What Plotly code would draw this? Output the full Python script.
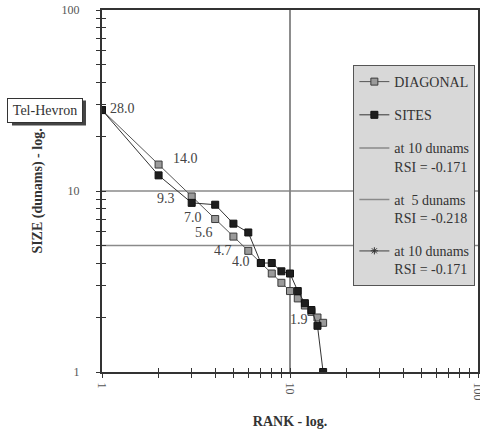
import math
import plotly.graph_objects as go

# Rank-size data (sizes in dunams)
rank = list(range(1, 16))
diagonal = [28.0, 14.0, 9.33, 7.0, 5.6, 4.67, 4.0, 3.5, 3.11, 2.8, 2.55, 2.33, 2.15, 2.0, 1.87]
sites = [28.0, 12.2, 8.6, 8.4, 6.6, 5.9, 4.0, 4.0, 3.6, 3.5, 2.8, 2.4, 2.2, 1.8, 1.0]

# Reference lines
size_10 = [10, 10]
size_5 = [5, 5]
rank_10 = [10, 10]
full_rank_span = [1, 100]
full_size_span = [0.5, 200]  # ends fall outside the axis range, so only the line shows

labelled_ranks = [1, 2, 3, 4, 5, 6, 7, 15]

major_vals = [1, 10, 100]
major_text = ["1", "10", "100"]
minor_vals = [2, 3, 4, 5, 6, 7, 8, 9, 20, 30, 40, 50, 60, 70, 80, 90]

SERIF = "Liberation Serif"
INK = "#333333"

fig = go.Figure()

fig.add_trace(go.Scatter(
    x=full_rank_span, y=size_10, mode="lines", name="at 10 dunams<br>RSI = -0.171",
    line=dict(color="#8a8a8a", width=1.5), legendrank=3, legendgroup="g3",
    hoverinfo="skip"))
fig.add_trace(go.Scatter(
    x=full_rank_span, y=size_5, mode="lines", name="at  5 dunams<br>RSI = -0.218",
    line=dict(color="#8a8a8a", width=1.5), legendrank=4, legendgroup="g4",
    hoverinfo="skip"))
fig.add_trace(go.Scatter(
    x=rank_10, y=full_size_span, mode="lines+markers", name="at 10 dunams<br>RSI = -0.171",
    line=dict(color="#808080", width=1.8),
    marker=dict(symbol="asterisk-open", size=6, color="#333", line=dict(width=1, color="#333")),
    legendrank=5, legendgroup="g5", hoverinfo="skip"))

fig.add_trace(go.Scatter(
    x=rank, y=diagonal, mode="lines+markers", name="DIAGONAL",
    line=dict(color="#555555", width=1),
    marker=dict(symbol="square", size=7, color="#9a9a9a", line=dict(color="#3a3a3a", width=1)),
    legendrank=1, legendgroup="g1"))
fig.add_trace(go.Scatter(
    x=rank, y=sites, mode="lines+markers", name="SITES",
    line=dict(color="#333333", width=1),
    marker=dict(symbol="square", size=7, color="#1e1e1e", line=dict(color="#111", width=1)),
    legendrank=2, legendgroup="g2"))

# carrier for the overlaid tick axes
fig.add_trace(go.Scatter(x=[10], y=[10], xaxis="x2", yaxis="y2", mode="markers",
                         marker=dict(opacity=0), showlegend=False, hoverinfo="skip"))

# value labels on the diagonal
offsets = {1: ("left", 6, 2), 2: ("left", 12, 6), 3: ("right", -15, -2), 4: ("right", -11, 2),
           5: ("right", -18, 4), 6: ("right", -14, 0), 7: ("right", -9, 2), 15: ("right", -13, 3)}
for r in labelled_ranks:
    v = diagonal[r - 1]
    anchor, dx, dy = offsets[r]
    fig.add_annotation(x=math.log10(r), y=math.log10(v), text=f"{v:.1f}", showarrow=False,
                       xanchor=anchor, yanchor="middle", xshift=dx, yshift=dy,
                       font=dict(family=SERIF, size=14, color="#444"))

# Tel-Hevron tag with a drop shadow
fig.add_shape(type="rect", xref="paper", yref="paper",
              x0=-0.2394, x1=-0.0426, y0=0.681, y1=0.750,
              fillcolor="#444", line=dict(width=0), layer="above")
fig.add_annotation(x=-0.1516, xref="paper", y=math.log10(sites[0]), yref="y",
                   text="Tel-Hevron", showarrow=False, xanchor="center", yanchor="middle",
                   width=68, height=17, borderpad=3, borderwidth=1, bordercolor="#333",
                   bgcolor="white", font=dict(family=SERIF, size=14, color=INK))

tick_style = dict(ticklen=4, tickwidth=1, tickcolor=INK)
minor_out = dict(tickmode="array", tickvals=minor_vals, ticks="outside", **tick_style)
minor_in = dict(tickmode="array", tickvals=minor_vals, ticks="inside", **tick_style)
axis_common = dict(type="log", range=[0, 2], tickmode="array", tickvals=major_vals,
                   showgrid=False, zeroline=False, automargin=False)

fig.update_layout(
    width=480, height=435,
    margin=dict(l=102, r=2, t=10, b=63, autoexpand=False),
    paper_bgcolor="white", plot_bgcolor="white",
    font=dict(family=SERIF, size=14, color=INK),
    xaxis=dict(**axis_common, ticktext=major_text, ticks="outside", **tick_style,
               minor=minor_out,
               showline=True, linewidth=2, linecolor=INK, mirror=True,
               tickangle=90, ticklabeloverflow="allow", ticklabelstandoff=2,
               tickfont=dict(family=SERIF, size=12, color="#555"),
               title=dict(text="<b>RANK - log.</b>", standoff=17,
                          font=dict(family=SERIF, size=14, color=INK))),
    yaxis=dict(**axis_common, ticktext=major_text, ticks="outside", **tick_style,
               minor=minor_out,
               showline=True, linewidth=2, linecolor=INK, mirror=True,
               ticklabelstandoff=14, ticklabeloverflow="allow",
               tickfont=dict(family=SERIF, size=12, color="#555"),
               title=dict(text="<b>SIZE (dunams) - log.</b>", standoff=16,
                          font=dict(family=SERIF, size=14, color=INK))),
    xaxis2=dict(**axis_common, overlaying="x", anchor="y2", side="bottom", ticks="inside",
                **tick_style, minor=minor_in, showticklabels=False, showline=False),
    yaxis2=dict(**axis_common, overlaying="y", anchor="x2", side="left", ticks="inside",
                **tick_style, minor=minor_in, showticklabels=False, showline=False),
    legend=dict(x=0.993, xanchor="right", y=0.848, yanchor="top", bgcolor="#d8d8d8",
                bordercolor="#555", borderwidth=1, traceorder="grouped", tracegroupgap=12,
                valign="top", font=dict(family=SERIF, size=14, color=INK)),
    showlegend=True,
)

fig.write_html("out.html")
